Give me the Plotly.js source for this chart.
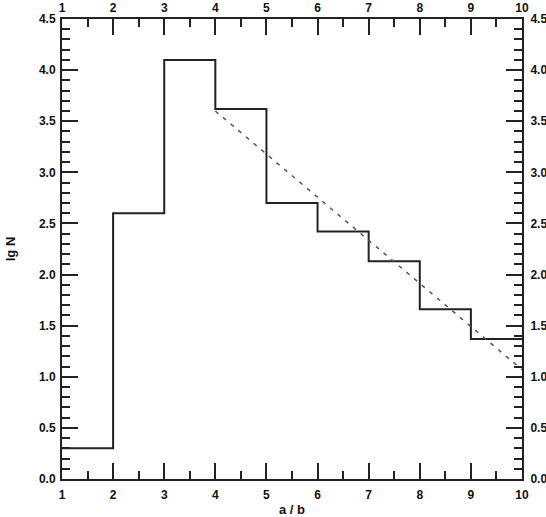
<!DOCTYPE html>
<html><head><meta charset="utf-8">
<script src="https://cdn.plot.ly/plotly-3.0.1.min.js"></script>
<style>html,body{margin:0;padding:0;background:#fff}</style>
</head><body><div id="chart" style="width:546px;height:517px"></div>
<script>
const stepX = [1, 2, 3, 4, 5, 6, 7, 8, 9, 10];
const stepY = [0.3, 2.6, 4.1, 3.62, 2.7, 2.42, 2.13, 1.66, 1.37, 1.37];
const fitX = [4, 10];
const fitY = [3.6, 1.07];
const xTitle = 'a / b';
const yTitle = 'lg N';

const tf = {family: 'Liberation Sans, Arial, sans-serif', size: 12, color: '#111', weight: 'bold'};
const ttf = {family: 'Liberation Sans, Arial, sans-serif', size: 13, weight: 'bold', color: '#111'};
const baseX = {range: [1, 10], dtick: 1, tick0: 1, ticks: 'inside', ticklen: 16, tickwidth: 2, tickcolor: '#222',
  showline: true, linewidth: 2, linecolor: '#222', showgrid: false, zeroline: false, tickfont: tf,
  minor: {dtick: 0.5, ticks: 'inside', ticklen: 8, tickwidth: 2, tickcolor: '#222', showgrid: false}};
const baseY = {range: [0, 4.5], dtick: 0.5, tick0: 0, tickformat: '.1f', ticks: 'inside', ticklen: 16, tickwidth: 2, tickcolor: '#222',
  showline: true, linewidth: 2, linecolor: '#222', showgrid: false, zeroline: false, tickfont: tf,
  minor: {dtick: 0.1, ticks: 'inside', ticklen: 8, tickwidth: 2, tickcolor: '#222', showgrid: false}};

const data = [
  {x: stepX, y: stepY, mode: 'lines', line: {shape: 'hv', color: '#222', width: 2}, xaxis: 'x', yaxis: 'y', hoverinfo: 'skip'},
  {x: fitX, y: fitY, mode: 'lines', line: {color: '#555', width: 1.5, dash: '4px,6px'}, xaxis: 'x', yaxis: 'y', hoverinfo: 'skip'},
  {x: [1], y: [0], mode: 'markers', marker: {opacity: 0}, xaxis: 'x2', yaxis: 'y2', hoverinfo: 'skip'}
];
const layout = {
  width: 546, height: 517, showlegend: false,
  margin: {l: 62, r: 24, t: 19, b: 38},
  paper_bgcolor: '#fff', plot_bgcolor: '#fff',
  xaxis: Object.assign({}, baseX, {ticklabelstandoff: 4, title: {text: xTitle, font: ttf, standoff: 4}}),
  yaxis: Object.assign({}, baseY, {ticklabelstandoff: 2, title: {text: yTitle, font: ttf, standoff: 20}}),
  xaxis2: Object.assign({}, baseX, {overlaying: 'x', side: 'top', anchor: 'y'}),
  yaxis2: Object.assign({}, baseY, {overlaying: 'y', side: 'right', anchor: 'x', ticklabelstandoff: 4})
};
Plotly.newPlot('chart', data, layout, {staticPlot: true, displayModeBar: false});
</script></body></html>
